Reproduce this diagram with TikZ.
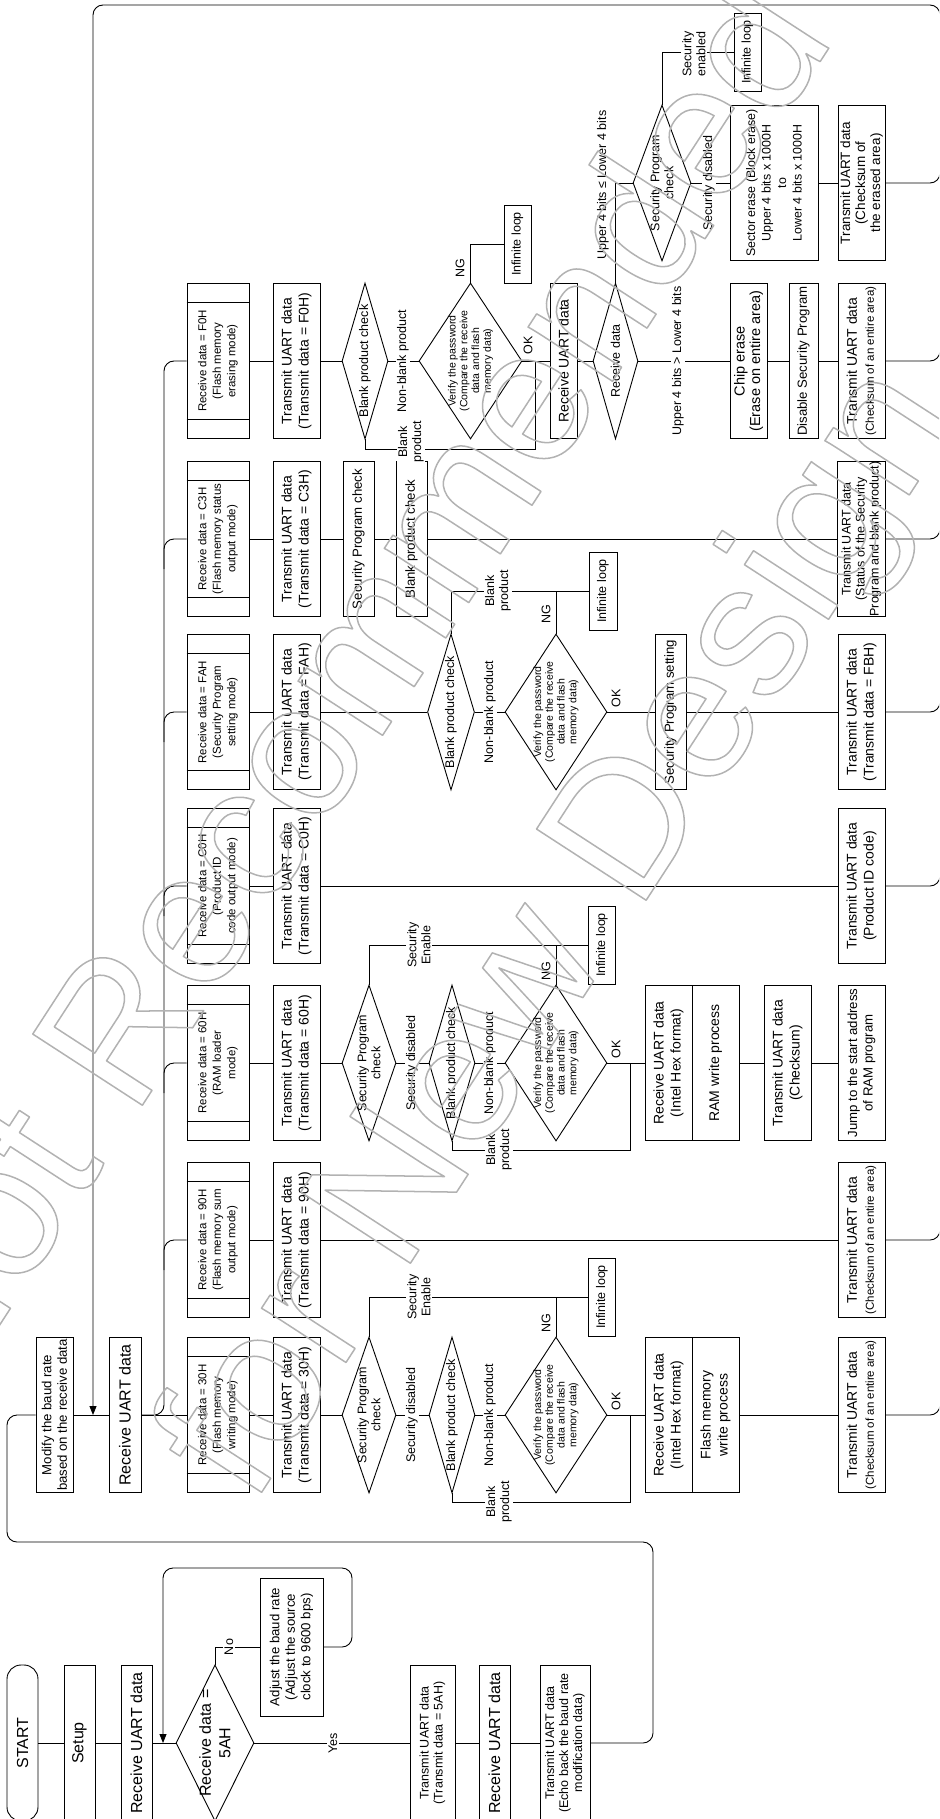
\documentclass[tikz,border=0pt]{standalone}
\usepackage{fontspec}
\setmainfont{Liberation Sans}
\usetikzlibrary{arrows.meta,calc,shapes.geometric}
\newcommand\fhuge{\fontsize{16}{19.5}\selectfont}
\newcommand\fbig{\fontsize{16}{18}\selectfont}
\newcommand\fchip{\fontsize{14.5}{15.5}\selectfont}
\newcommand\fmid{\fontsize{14}{17}\selectfont}
\newcommand\fmed{\fontsize{13.2}{15.5}\selectfont}
\newcommand\flab{\fontsize{12.5}{14}\selectfont}
\newcommand\fsml{\fontsize{11.5}{14.5}\selectfont}
\newcommand\ftny{\fontsize{10.5}{11.7}\selectfont}
\newcommand\wmtext[1]{\special{pdf:literal direct 1 Tr 1.5 w 1 j}#1\special{pdf:literal direct 0 Tr}}

\begin{document}
\begin{tikzpicture}[x=1pt,y=-1pt,
  flow/.style={line width=0.9pt},
  loopline/.style={line width=0.9pt,rounded corners=10},
  box/.style={draw,line width=0.9pt,rotate=90,inner sep=0pt,align=center,minimum width=155},
  dia/.style={draw,diamond,line width=0.9pt,inner sep=0pt,minimum width=#1,minimum height=156},
  dtext/.style={rotate=90,inner sep=0pt,align=center},
  lab/.style={rotate=90,fill=white,inner sep=1.5pt,align=center,font=\flab},
  downtip/.style={-{Triangle[length=9pt,width=7pt]}}]
\useasboundingbox (0,0) rectangle (939,1819);
\clip (0,0) rectangle (939,1819);

% start-up: baud rate detection
\node[box,rounded corners=14,minimum width=156,minimum height=31,font=\fbig] (start) at (22.5,1743) {START};
\node[box,minimum width=156,minimum height=31,font=\fbig] (setup) at (79.5,1743) {Setup};
\node[box,minimum width=156,minimum height=31,font=\fbig] (recv0) at (136.5,1743) {Receive UART data};
\node[dia=78] (d5a) at (215,1743) {};
\node[dtext,font=\fhuge] (d5at) at (d5a) {Receive data =\\5AH};
\node[box,minimum width=138,minimum height=63,font=\fmed] (adjust) at (291.5,1647) {Adjust the baud rate\\(Adjust the source\\clock to 9600 bps)};
\node[box,minimum width=156,minimum height=45,font=\flab] (tx5a) at (432.5,1743) {Transmit UART data\\(Transmit data = 5AH)};
\node[box,minimum width=156,minimum height=31,font=\fbig] (recv1) at (494.5,1743) {Receive UART data};
\node[box,minimum width=156,minimum height=50,font=\flab] (echo) at (565,1743) {Transmit UART data\\(Echo back the baud rate\\modification data)};

\draw[flow] (start) -- (setup) -- (recv0) -- (d5a) -- (tx5a) -- (recv1) -- (echo);
\draw[flow] (d5a.north) |- (adjust);
\draw[loopline,downtip] (adjust) -- (352,1647) -- (352,1568) -- (163,1568) -- (163,1743);
\node[lab] (no) at (229,1647) {No};
\node[lab] (yes) at (333,1743) {Yes};

% command loop
\node[box,minimum height=37,font=\fmed] (modify) at (54.5,1415) {Modify the baud rate\\based on the receive data};
\node[box,minimum height=32,font=\fbig] (recv2) at (125,1415) {Receive UART data};
\draw[loopline] (echo) -- (653,1743) -- (653,1542) -- (7,1542) -- (7,1415) -- (modify);
\draw[flow] (modify) -- (recv2);

\foreach \n/\y/\t in {30/1415/{Receive data = 30H\\(Flash memory\\writing mode)},
  90/1240/{Receive data = 90H\\(Flash memory sum\\output mode)},
  60/1063/{Receive data = 60H\\(RAM loader\\mode)},
  C0/886/{Receive data = C0H\\(Product ID\\code output mode)},
  FA/712/{Receive data = FAH\\(Security Program\\setting mode)},
  C3/539/{Receive data = C3H\\(Flash memory status\\output mode)},
  F0/361/{Receive data = F0H\\(Flash memory\\erasing mode)}} {
  \node[box,minimum height=62,font=\fsml] (rx\n) at (218,\y) {\t};
  \draw[flow] ($(rx\n.north east)!0.126!(rx\n.north west)$) -- ($(rx\n.south east)!0.126!(rx\n.south west)$);
  \draw[flow] ($(rx\n.north west)!0.126!(rx\n.north east)$) -- ($(rx\n.south west)!0.126!(rx\n.south east)$);
  \node[box,minimum height=47,font=\fmid] (tx\n) at (296.5,\y) {Transmit UART data\\(Transmit data = \n{}H)};
  \draw[flow] (rx\n) -- (tx\n);
}
\draw[flow] (recv2) -- (rx30);
\draw[loopline] (recv2) -- (164,1415) -- (164,361) -- (rxF0);
\foreach \n/\y in {90/1240,60/1063,C0/886,FA/712,C3/539}
  \draw[loopline] (164,\y+30) -- (164,\y) -- (rx\n);

% 30H and 60H: security, blank and password checks
\foreach \n/\y/\t in {30/1415/{Flash memory\\write process},60/1063/{RAM write process}} {
  \node[dia=54] (spc\n) at (369,\y) {};
  \node[dtext,font=\flab] (spc\n t) at (spc\n) {Security Program\\check};
  \node[dia=46] (bpc\n) at (452,\y) {};
  \node[dtext,font=\flab] (bpc\n t) at (bpc\n) {Blank product check};
  \node[dia=102] (pwd\n) at (556,\y) {};
  \node[dtext,font=\ftny] (pwd\n t) at (pwd\n) {Verify the password\\(Compare the receive\\data and flash\\memory data)};
  \node[box,minimum width=78,minimum height=27,font=\flab] (inf\n) at (602,\y-118) {Infinite loop};
  \node[box,minimum height=47,font=\fmid] (hexa\n) at (668.5,\y) {Receive UART data\\(Intel Hex format)};
  \node[box,minimum height=47,font=\fmid] (hexb\n) at (715.5,\y) {\t};
  \draw[flow] (tx\n) -- (spc\n) -- (bpc\n) -- (pwd\n) -- (hexa\n);
  \draw[flow] (spc\n.north) |- (inf\n);
  \draw[flow] (pwd\n.north) -- (pwd\n.north |- inf\n);
  \draw[flow] (bpc\n.south) -- ++(0,9) -| (630,\y);
  \node[lab] (sd\n) at (412,\y) {Security disabled};
  \node[lab] (nb\n) at (490,\y) {Non-blank product};
  \node[lab] (bp\n) at (499,\y+87) {Blank\\product};
  \node[lab] (se\n) at (419,\y-118) {Security\\Enable};
  \node[dtext,font=\flab] (ng\n) at (546,\y-92) {NG};
  \node[dtext,font=\flab] (ok\n) at (616,\y-14) {OK};
}
\node[box,minimum height=47,font=\fmid] (txsum30) at (861.5,1415) {Transmit UART data\\{\fsml(Checksum of an entire area)}};
\draw[flow] (hexb30) -- (txsum30);
\node[box,minimum height=47,font=\fmid] (txck) at (787.5,1063) {Transmit UART data\\(Checksum)};
\node[box,minimum height=47,font=\fmed] (jump) at (861.5,1063) {Jump to the start address\\of RAM program};
\draw[flow] (hexb60) -- (txck) -- (jump);

% 90H and C0H
\node[box,minimum height=47,font=\fmid] (txsum90) at (861.5,1240) {Transmit UART data\\{\fsml(Checksum of an entire area)}};
\draw[flow] (tx90) -- (txsum90);
\node[box,minimum height=47,font=\fmid] (txid) at (861.5,886) {Transmit UART data\\(Product ID code)};
\draw[flow] (txC0) -- (txid);

% FAH
\node[dia=47] (bpcFA) at (451,712) {};
\node[dtext,font=\flab] (bpcFAt) at (bpcFA) {Blank product check};
\node[dia=102] (pwdFA) at (556,712) {};
\node[dtext,font=\ftny] (pwdFAt) at (pwdFA) {Verify the password\\(Compare the receive\\data and flash\\memory data)};
\node[box,minimum width=78,minimum height=28,font=\flab] (infFA) at (603,591) {Infinite loop};
\node[box,minimum height=31,font=\fmed] (spset) at (670.5,712) {Security Program setting};
\node[box,minimum height=47,font=\fmid] (txfb) at (861.5,712) {Transmit UART data\\(Transmit data = FBH)};
\draw[flow] (txFA) -- (bpcFA) -- (pwdFA) -- (spset) -- (txfb);
\draw[flow] (bpcFA.north) |- (infFA);
\draw[flow] (pwdFA.north) -- (pwdFA.north |- infFA);
\node[lab] (nbFA) at (490,712) {Non-blank product};
\node[lab] (bpFA) at (498,591) {Blank\\product};
\node[dtext,font=\flab] (ngFA) at (546,614) {NG};
\node[dtext,font=\flab] (okFA) at (616,698) {OK};

% C3H
\node[box,minimum height=31,font=\fmed] (spcbox) at (358.5,539) {Security Program check};
\node[box,minimum height=31,font=\fmed] (bpcbox) at (411.5,539) {Blank product check};
\node[box,minimum height=48,font=\flab] (txst) at (861.5,539) {Transmit UART data\\(Status of the Security\\Program and blank product)};
\draw[flow] (txC3) -- (spcbox) -- (bpcbox) -- (txst);

% F0H
\node[dia=46] (bpcF0) at (365,361) {};
\node[dtext,font=\flab] (bpcF0t) at (bpcF0) {Blank product check};
\node[dia=103] (pwdF0) at (470.5,361) {};
\node[dtext,font=\ftny] (pwdF0t) at (pwdF0) {Verify the password\\(Compare the receive\\data and flash\\memory data)};
\node[box,minimum width=78,minimum height=27,font=\flab] (infF0) at (517.5,244) {Infinite loop};
\node[box,minimum height=27,font=\fmid] (recvF0) at (563.5,361) {Receive UART data};
\node[dia=45] (rdF0) at (615.5,361) {};
\node[dtext,font=\flab] (rdF0t) at (rdF0) {Receive data};
\node[dia=58] (spcF0) at (662,183) {};
\node[dtext,font=\flab] (spcF0t) at (spcF0) {Security Program\\check};
\node[box,minimum width=78,minimum height=27,font=\flab] (infF0b) at (747.5,52) {Infinite loop};
\node[box,minimum height=88,font=\fontsize{12.4}{15.5}\selectfont] (sector) at (774,183) {Sector erase (Block erase)\\Upper 4 bits x 1000H\\to\\Lower 4 bits x 1000H};
\node[box,minimum height=47,font=\fontsize{13.5}{15}\selectfont] (txer) at (861.5,183) {Transmit UART data\\(Checksum of\\the erased area)};
\node[box,minimum height=37,font=\fchip] (chip) at (748.5,361) {Chip erase\\(Erase on entire area)};
\node[box,minimum height=29,font=\fmed] (dis) at (803.5,361) {Disable Security Program};
\node[box,minimum height=47,font=\fmid] (txall) at (861.5,361) {Transmit UART data\\{\fsml(Checksum of an entire area)}};
\draw[flow] (txF0) -- (bpcF0) -- (pwdF0) -- (recvF0) -- (rdF0) -- (chip) -- (dis) -- (txall);
\draw[flow] (bpcF0.south) -- ++(0,10) -| (535,361);
\draw[flow] (pwdF0.north) |- (infF0);
\draw[flow] (rdF0.north) |- (spcF0);
\draw[flow] (spcF0) -- (sector) -- (txer);
\draw[flow] (spcF0.north) |- (infF0b);
\node[lab] (nbF0) at (403,361) {Non-blank product};
\node[lab] (bpF0) at (411,442) {Blank\\product};
\node[dtext,font=\flab] (ngF0) at (460,268) {NG};
\node[dtext,font=\flab] (okF0) at (528,345) {OK};
\node[dtext,font=\flab] (ule) at (603,185) {Upper 4 bits ≤ Lower 4 bits};
\node[lab] (ugt) at (678,361) {Upper 4 bits > Lower 4 bits};
\node[lab] (sdF0) at (709,183) {Security disabled};
\node[lab] (seF0) at (694,54) {Security\\enabled};

% return bus
\draw[loopline,downtip] (txsum30) -- (940,1415) -- (940,5) -- (93,5) -- (93,1415);
\foreach \n/\y in {txsum90/1240,txid/886,txfb/712,txst/539,txall/361,txer/183}
  \draw[loopline] (\n) -- (940,\y) -- (940,\y-30);

% watermark
\node[rotate=57,inner sep=0pt,text=black!30,font=\fontsize{190}{200}\selectfont] (wm1) at (333,687) {\wmtext{Not Recommended}};
\node[rotate=57,inner sep=0pt,text=black!30,font=\fontsize{190}{200}\selectfont] (wm2) at (565,935) {\wmtext{for New Design}};
\end{tikzpicture}
\end{document}
